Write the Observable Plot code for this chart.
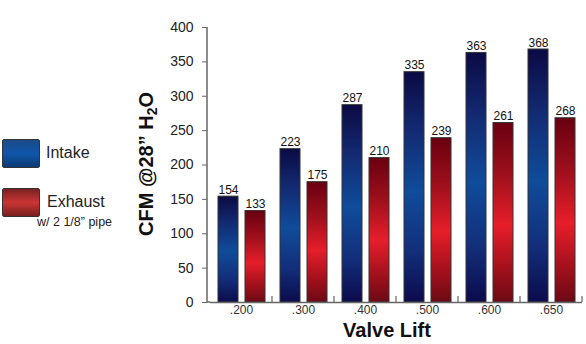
<!DOCTYPE html>
<html><head><meta charset="utf-8">
<script src="https://cdn.jsdelivr.net/npm/d3@7"></script>
<script src="https://cdn.jsdelivr.net/npm/@observablehq/plot@0.6"></script>
<style>
body{margin:0;background:#fff;}
#wrap{position:relative;width:586px;height:344px;font-family:"Liberation Sans",Arial,sans-serif;color:#222;overflow:hidden;}
.abs{position:absolute;white-space:nowrap;}
.sw{position:absolute;width:36px;height:27px;border:1px solid #333;border-radius:2px;}
</style></head><body><div id="wrap"></div>
<script>
const lifts = [".200", ".300", ".400", ".500", ".600", ".650"];
const intake = [154, 223, 287, 335, 363, 368];
const exhaust = [133, 175, 210, 239, 261, 268];
const series = ["Intake", "Exhaust"];
const yTicks = [0, 50, 100, 150, 200, 250, 300, 350, 400];

const data = lifts.flatMap((l, i) => [
  {lift: l, series: "Intake", cfm: intake[i]},
  {lift: l, series: "Exhaust", cfm: exhaust[i]}
]);

const plot = Plot.plot({
  width: 586, height: 344,
  marginLeft: 210, marginRight: 4, marginTop: 27, marginBottom: 42,
  style: {fontFamily: '"Liberation Sans", Arial, sans-serif', background: "transparent", color: "#222"},
  fx: {domain: lifts, padding: 0, label: null},
  x: {domain: series, padding: 0.268, axis: null},
  y: {domain: [0, 400], label: null},
  color: {type: "ordinal", domain: series, range: ["url(#gIntake)", "url(#gExhaust)"]},
  marks: [
    Plot.axisY({ticks: yTicks, tickSize: 5, tickPadding: 9, fontSize: 14, stroke: "#666", fill: "#222", label: null, dx: -3}),
    Plot.axisFx({anchor: "bottom", tickSize: 0, tickPadding: 3, fontSize: 12, fill: "#333", label: null}),
    Plot.barY(data, {fx: "lift", x: "series", y: "cfm", fill: "series", stroke: "#333", strokeWidth: 1}),
    Plot.text(data, {fx: "lift", x: "series", y: "cfm", text: d => String(d.cfm), lineAnchor: "bottom", dy: -3, fontSize: 12, fill: "#111"}),
    Plot.ruleY([0], {stroke: "#666", strokeWidth: 1.5})
  ]
});

const wrap = document.getElementById("wrap");
wrap.appendChild(plot);
const svgNode = plot.tagName.toLowerCase() === "svg" ? plot : plot.querySelector("svg");
const svg = d3.select(svgNode);
const defs = svg.insert("defs", ":first-child");
function grad(id, stops) {
  const g = defs.append("linearGradient").attr("id", id)
    .attr("x1", 0).attr("y1", 0).attr("x2", 0).attr("y2", 1);
  stops.forEach(([o, c]) => g.append("stop").attr("offset", o).attr("stop-color", c));
}
grad("gIntake", [[0, "#0b0a44"], [0.25, "#132a72"], [0.52, "#0f4c9a"], [0.78, "#132e7a"], [1, "#0b0b4c"]]);
grad("gExhaust", [[0, "#690010"], [0.3, "#a0101c"], [0.57, "#e61e2a"], [0.82, "#a0101c"], [1, "#6c0a14"]]);

// y-axis line and group boundary ticks, from the plot's own scales
const fx = plot.scale("fx");
const y = plot.scale("y");
const y0 = y.apply(0), yTop = y.apply(400);
const axisX = fx.apply(lifts[0]) - 3;
const g = svg.append("g").attr("stroke", "#666").attr("stroke-width", 1.5);
g.append("line").attr("x1", axisX).attr("x2", axisX).attr("y1", y0).attr("y2", yTop);
g.append("line").attr("x1", axisX).attr("x2", fx.apply(lifts[0])).attr("y1", y0).attr("y2", y0);
lifts.forEach(l => {
  const xr = fx.apply(l) + fx.bandwidth;
  g.append("line").attr("x1", xr).attr("x2", xr).attr("y1", y0).attr("y2", y0 - 6).attr("stroke-width", 1.2);
});
svgNode.style.position = "absolute";
svgNode.style.left = "0";
svgNode.style.top = "0";

// titles and legend
function add(html, css) {
  const d = document.createElement("div");
  d.className = "abs";
  d.innerHTML = html;
  Object.assign(d.style, css);
  wrap.appendChild(d);
  return d;
}
add('CFM @28” H<sub style="font-size:0.7em;vertical-align:-0.25em;line-height:0">2</sub>O',
  {left: "146px", top: "164px", fontSize: "20px", fontWeight: "bold", color: "#111", lineHeight: "20px",
   transform: "translate(-50%,-50%) rotate(-90deg)"});
add("Valve Lift", {left: "387px", top: "320px", fontSize: "20px", fontWeight: "bold", color: "#111", lineHeight: "20px",
   transform: "translateX(-50%)"});

const sw1 = document.createElement("div");
sw1.className = "sw";
Object.assign(sw1.style, {left: "2px", top: "139px", background: "linear-gradient(#1b4a88, #0f56aa 50%, #0d3a72)"});
wrap.appendChild(sw1);
const sw2 = document.createElement("div");
sw2.className = "sw";
Object.assign(sw2.style, {left: "2px", top: "188px", background: "linear-gradient(#7a2222, #cc3434 50%, #782020)"});
wrap.appendChild(sw2);
add(series[0], {left: "46px", top: "144px", fontSize: "16px", lineHeight: "18px", color: "#222"});
add(series[1], {left: "47px", top: "193px", fontSize: "16px", lineHeight: "18px", color: "#222"});
add("w/ 2 1/8” pipe", {left: "37px", top: "215px", fontSize: "12.5px", lineHeight: "14px", color: "#222"});
</script>
</body></html>
